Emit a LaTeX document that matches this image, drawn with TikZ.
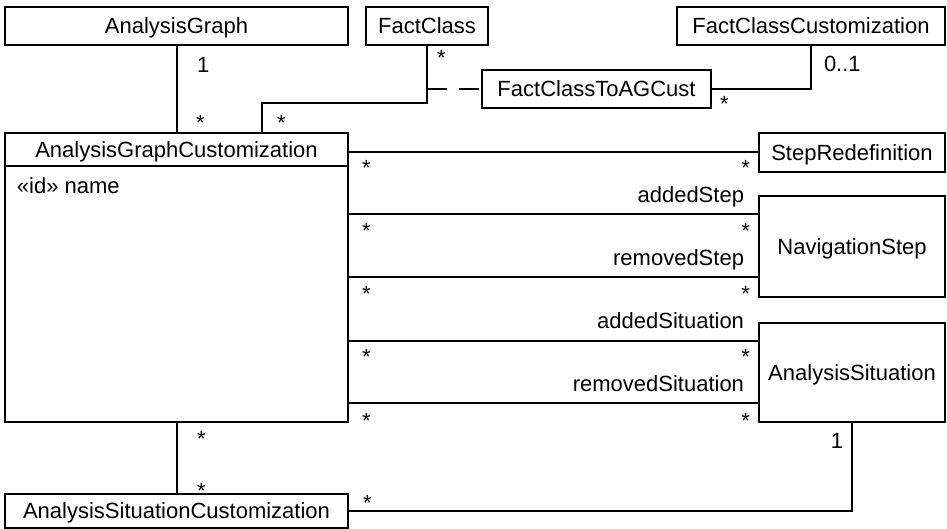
\documentclass[tikz,border=0pt]{standalone}
\usepackage{fontspec}
\setmainfont{Liberation Sans}
\usepackage{tikz}
\usetikzlibrary{positioning,calc}

\begin{document}
\begin{tikzpicture}[
  x=0.5pt, y=-0.5pt, line width=1pt,
  font=\fontsize{11pt}{13pt}\selectfont,
  cls/.style={draw, rectangle, inner sep=0pt, outer sep=0pt, text height=7.9pt, text depth=0pt},
  mult/.style={inner sep=0pt, anchor=base west},
  role/.style={inner sep=0pt, anchor=base east},
  assoc/.style={dash pattern=on 10pt off 6pt}
]
\useasboundingbox (0,0) rectangle (947,529);

% classes
\node[cls, minimum width=171.5pt, minimum height=19pt] (ag)   at (176.5,26) {AnalysisGraph};
\node[cls, minimum width=61pt,    minimum height=19pt] (fc)   at (427,26)   {FactClass};
\node[cls, minimum width=134pt,   minimum height=19pt] (fcc)  at (811,26)   {FactClassCustomization};
\node[cls, minimum width=114.5pt, minimum height=19pt] (fcag) at (596.5,89) {FactClassToAGCust};

\node[cls, minimum width=171.5pt, minimum height=16.5pt] (agc) at (176.5,149.5) {AnalysisGraphCustomization};
\node[cls, minimum width=171.5pt, minimum height=128pt, anchor=north] (agcbody) at (agc.south) {};
\node[inner sep=0pt, anchor=base west] (agcattr) at (16,194) {«id» name};

\node[cls, minimum width=93pt, minimum height=19.5pt] (sr) at (852,152.5) {StepRedefinition};
\node[cls, minimum width=93pt, minimum height=50.5pt] (ns) at (852,246.5) {NavigationStep};
\node[cls, minimum width=93pt, minimum height=49.5pt] (as) at (852,372.5) {AnalysisSituation};
\node[cls, minimum width=171.5pt, minimum height=17pt] (asc) at (176.5,511) {AnalysisSituationCustomization};

% associations
\draw (ag) -- (agc);
\coordinate (agcjoin) at ($(agc.north)+(85.5,0)$);
\draw (fc.south) |- ($(agcjoin)+(0,-30)$) -- (agcjoin);
\draw[assoc] (fc.south |- fcag.west) -- (fcag.west);
\draw (fcc.south) |- (fcag.east);
\draw (sr.west) -- (sr.west -| agc.east);

\coordinate (nsadd) at ($(ns.north west)+(0,18)$);
\coordinate (nsrem) at ($(ns.south west)+(0,-20)$);
\coordinate (asadd) at ($(as.north west)+(0,18)$);
\coordinate (asrem) at ($(as.south west)+(0,-19)$);
\foreach \c in {nsadd,nsrem,asadd,asrem}
  \draw (\c) -- (\c -| agcbody.east);

\draw (agcbody) -- (asc);
\draw (as.south) |- (asc.east);

% role names
\node[role] (raddstep) at (745,203) {addedStep};
\node[role] (rremstep) at (745,265) {removedStep};
\node[role] (raddsit)  at (745,328) {addedSituation};
\node[role] (rremsit)  at (745,391) {removedSituation};

% multiplicities
\node[mult] (m1)  at (196,73)  {1};
\node[mult] (m2)  at (195,131) {*};
\node[mult] (m3)  at (436,66)  {*};
\node[mult] (m4)  at (276,131) {*};
\node[mult] (m5)  at (823,72)  {0..1};
\node[mult] (m6)  at (719,112) {*};
\foreach \y in {176,239,301,364,428} {
  \node[mult] (ml\y) at (361,\y) {*};
  \node[mult, anchor=base east] (mr\y) at (751,\y) {*};
}
\node[mult] (m7)  at (196,446) {*};
\node[mult] (m8)  at (196,498) {*};
\node[mult] (m9)  at (362,510) {*};
\node[mult, anchor=base east] (m10) at (844,448) {1};
\end{tikzpicture}
\end{document}
